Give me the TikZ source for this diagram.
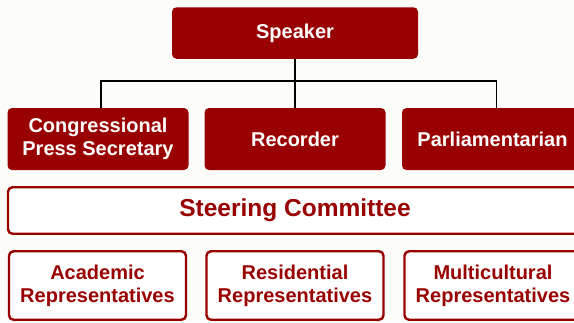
\documentclass[tikz,border=0pt]{standalone}
\usepackage{fontspec}
\setmainfont{Liberation Sans}
\usepackage{xcolor}
\usepackage{tikz}

\definecolor{hillred}{HTML}{990000}
\definecolor{paper}{HTML}{FCFCF8}

\tikzset{
  officebox/.style={fill=hillred, draw=none, rounded corners=4.5pt, text=white,
    align=center, minimum width=181pt, minimum height=62pt,
    font=\bfseries\fontsize{20}{23}\selectfont},
  groupbox/.style={fill=white, draw=hillred, line width=2.4pt, rounded corners=4.5pt,
    text=hillred, align=center, minimum width=177pt, minimum height=68.5pt,
    font=\bfseries\fontsize{20}{23}\selectfont},
  link/.style={draw=black, line width=1.3pt}
}

\begin{document}
\begin{tikzpicture}[x=1pt, y=-1pt]
      % Page
      \fill[paper] (0,0) rectangle (574,322);
      \useasboundingbox (0,0) rectangle (574,322);

      % Speaker
      \node[officebox, minimum width=246pt, minimum height=51.5pt] (speaker) at (295,33) {Speaker};

      % Officers
      \node[officebox] (press) at (98,139) {Congressional\\Press Secretary};
      \node[officebox] (recorder) at (295,139) {Recorder};
      \node[officebox] (parl) at (492.5,139) {Parliamentarian};

      % Tree lines
      \coordinate (bus) at (295,81);
      \draw[link] (speaker.south) -- (recorder.north);
      \draw[link] ([xshift=3pt]press.north) |- (bus) -| ([xshift=4pt]parl.north);

      % Steering committee
      \node[groupbox, minimum width=574pt, minimum height=46.5pt,
            font=\bfseries\fontsize{24.5}{28}\selectfont] (steering) at (295,210.5) {Steering Committee};

      % Representatives
      \node[groupbox] (academic) at (97.5,285.5) {Academic\\Representatives};
      \node[groupbox] (residential) at (295,285.5) {Residential\\Representatives};
      \node[groupbox] (multi) at (493,285.5) {Multicultural\\Representatives};
  \end{tikzpicture}
\end{document}
